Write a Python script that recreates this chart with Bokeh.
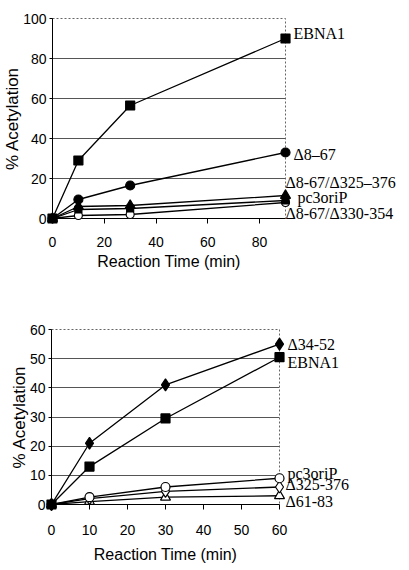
from bokeh.plotting import figure
from bokeh.models import Range1d, FixedTicker, ColumnDataSource
from bokeh.core.properties import value
from bokeh.embed import file_html
from bokeh.resources import INLINE

# ---- data: top panel ----
time_a = [0, 10, 30, 90]
ebna1_a = [0, 29, 56.5, 90]
d8_67_a = [0, 9.5, 16.5, 33]
d8_67_d325_a = [0, 6, 6.5, 11.5]
pc3orip_a = [0, 4.5, 5, 9]
d8_67_d330_a = [0, 1.5, 2, 8]
names_a = ["EBNA1", "Δ8–67", "Δ8-67/Δ325–376", "pc3oriP", "Δ8-67/Δ330-354"]
xticks_a = [0, 20, 40, 60, 80]
yticks_a = [0, 20, 40, 60, 80, 100]

# ---- data: bottom panel ----
time_b = [0, 10, 30, 60]
d34_52_b = [0, 21, 41, 55]
ebna1_b = [0, 13, 29.5, 50.5]
pc3orip_b = [0, 2.5, 6, 9]
d325_b = [0, 2, 4.5, 6]
d61_83_b = [0, 1, 2.5, 3]
names_b = ["Δ34-52", "EBNA1", "pc3oriP", "Δ325-376", "Δ61-83"]
xticks_b = [0, 10, 20, 30, 40, 50, 60]
yticks_b = [0, 10, 20, 30, 40, 50, 60]

TICK_FONT = "Liberation Sans"
SERIF = "Liberation Serif"
W = 409


def make_fig(h, top, bottom, left, right, xr, yr, xt, yt, xstand, xtitle_stand):
    p = figure(width=W, height=h, output_backend="svg", toolbar_location=None,
               x_range=Range1d(*xr), y_range=Range1d(*yr),
               min_border_left=left, min_border_right=right,
               min_border_top=top, min_border_bottom=bottom)
    p.background_fill_color = "white"
    p.border_fill_color = "white"
    p.outline_line_color = "#666666"
    p.outline_line_dash = "2 2"
    p.outline_line_width = 1
    p.xgrid.visible = False
    p.ygrid.grid_line_color = "#555555"
    p.ygrid.grid_line_width = 1
    p.ygrid.ticker = FixedTicker(ticks=yt[:-1])
    p.xaxis.ticker = FixedTicker(ticks=xt)
    p.yaxis.ticker = FixedTicker(ticks=yt)
    for ax in (p.xaxis[0], p.yaxis[0]):
        ax.axis_line_color = "black"
        ax.axis_line_width = 1
        ax.major_tick_line_color = "black"
        ax.major_tick_in = 0
        ax.minor_tick_line_color = None
        ax.major_label_text_font = TICK_FONT
        ax.major_label_text_font_size = "14px"
        ax.major_label_text_color = "black"
        ax.axis_label_text_font = "Liberation Sans"
        ax.axis_label_text_font_style = "normal"
        ax.axis_label_text_color = "black"
    p.xaxis.major_tick_out = 5
    p.xaxis.major_label_standoff = xstand
    p.xaxis.axis_label = "Reaction Time (min)"
    p.xaxis.axis_label_text_font_size = "16px"
    p.xaxis.axis_label_standoff = xtitle_stand
    p.yaxis.major_tick_out = 3
    p.yaxis.major_label_standoff = 3
    p.yaxis.axis_label = "% Acetylation"
    p.yaxis.axis_label_text_font_size = "17px"
    p.yaxis.axis_label_standoff = -2
    return p


def series(p, x, y, marker, size, filled=True):
    p.line(x, y, line_color="black", line_width=1.3)
    p.scatter(x, y, marker=marker, size=size, line_color="black", line_width=1.2,
              fill_color="black" if filled else "white", level="overlay")


def tags(p, x_end, ys_list, names, offs):
    src = ColumnDataSource(dict(
        x=[x_end] * len(names),
        y=[ys[-1] for ys in ys_list],
        text=names,
        dx=[o[0] for o in offs],
        dy=[-o[1] for o in offs],
    ))
    p.text(x="x", y="y", text="text", x_offset="dx", y_offset="dy", source=src,
           text_font=value(SERIF), text_font_size="16px", text_color="black",
           text_baseline="middle", text_align="left", level="overlay")


# ---- top panel ----
pa = make_fig(288, 18, 70, 52, 124, (0, 90), (0, 100), xticks_a, yticks_a, 13, 3)
series(pa, time_a, d8_67_d330_a, "circle", 8, filled=False)
series(pa, time_a, pc3orip_a, "square", 7)
series(pa, time_a, d8_67_d325_a, "triangle", 10)
series(pa, time_a, d8_67_a, "circle", 9)
series(pa, time_a, ebna1_a, "square", 9)
offs_a = [(8, 5), (8, -2), (0, 13), (12, 3), (0, -11)]
tags(pa, time_a[-1], [ebna1_a, d8_67_a, d8_67_d325_a, pc3orip_a, d8_67_d330_a], names_a, offs_a)

# ---- bottom panel ----
pb = make_fig(282, 41, 66, 51, 130, (0, 60), (0, 60), xticks_b, yticks_b, 15, 8)
series(pb, time_b, d61_83_b, "triangle", 10, filled=False)
series(pb, time_b, d325_b, "diamond", 12, filled=False)
series(pb, time_b, pc3orip_b, "circle", 9, filled=False)
series(pb, time_b, ebna1_b, "square", 9)
series(pb, time_b, d34_52_b, "diamond", 12)
offs_b = [(8, 0), (8, -5), (8, 5), (6, 3), (6, -6)]
tags(pb, time_b[-1], [d34_52_b, ebna1_b, pc3orip_b, d325_b, d61_83_b], names_b, offs_b)

open("out.html", "w").write(file_html([pa, pb], INLINE))
